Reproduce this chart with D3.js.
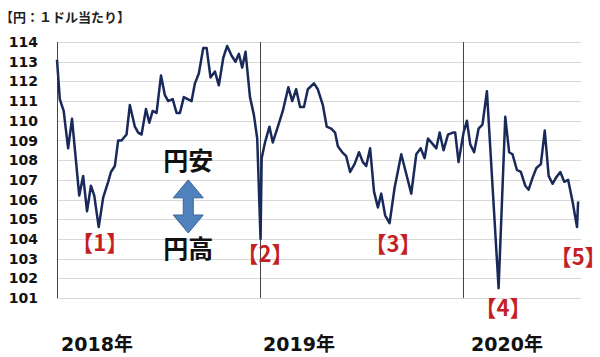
<!DOCTYPE html>
<html>
<head>
<meta charset="utf-8">
<script src="https://cdn.jsdelivr.net/npm/d3@7"></script>
<style>
  body { margin: 0; background: #fff; }
  text { font-family: "DejaVu Sans", "Noto Sans CJK JP", sans-serif; font-weight: bold; }
  .jp { font-family: "Noto Sans CJK JP", sans-serif; }
</style>
</head>
<body>
<svg id="chart" width="600" height="357"></svg>
<script>
// weekly USD/JPY
var dates = [
  '2018-01-01','2018-01-06','2018-01-13','2018-01-21','2018-01-28','2018-02-10','2018-02-17','2018-02-24',
  '2018-03-03','2018-03-09','2018-03-17','2018-03-25','2018-04-03','2018-04-08','2018-04-15','2018-04-21',
  '2018-04-27','2018-05-06','2018-05-12','2018-05-21','2018-05-27','2018-06-02','2018-06-10','2018-06-16',
  '2018-06-22','2018-06-29','2018-07-07','2018-07-14','2018-07-20','2018-07-28','2018-08-04','2018-08-10',
  '2018-08-17','2018-08-31','2018-09-06','2018-09-13','2018-09-21','2018-09-27','2018-10-04','2018-10-12',
  '2018-10-19','2018-10-27','2018-11-03','2018-11-11','2018-11-18','2018-11-24','2018-11-30','2018-12-06',
  '2018-12-14','2018-12-21','2018-12-27','2019-01-02','2019-01-04','2019-01-10','2019-01-18','2019-01-24',
  '2019-02-01','2019-02-11','2019-02-21','2019-02-28','2019-03-07','2019-03-14','2019-03-21','2019-03-28',
  '2019-04-08','2019-04-15','2019-04-24','2019-05-01','2019-05-09','2019-05-16','2019-05-21','2019-05-29',
  '2019-06-05','2019-06-12','2019-06-20','2019-06-28','2019-07-05','2019-07-11','2019-07-18','2019-07-25',
  '2019-08-01','2019-08-07','2019-08-14','2019-08-22','2019-08-31','2019-09-12','2019-09-21','2019-09-30',
  '2019-10-09','2019-10-17','2019-10-24','2019-10-30','2019-11-08','2019-11-14','2019-11-20','2019-11-27',
  '2019-12-05','2019-12-14','2019-12-18','2019-12-24','2020-01-02','2020-01-08','2020-01-14','2020-01-21',
  '2020-01-29','2020-02-05','2020-02-13','2020-03-05','2020-03-17','2020-03-24','2020-03-30','2020-04-07',
  '2020-04-14','2020-04-22','2020-04-28','2020-05-05','2020-05-12','2020-05-20','2020-05-27','2020-06-03',
  '2020-06-10','2020-06-16','2020-06-24','2020-07-01','2020-07-08','2020-07-16','2020-07-24','2020-07-26'
];
var rates = [
  113.1,111.1,110.5,108.6,110.1,106.2,107.2,105.4,
  106.7,106.2,104.6,106.1,106.9,107.4,107.7,109.0,
  109.0,109.3,110.8,109.7,109.4,109.3,110.6,109.9,
  110.5,110.4,112.3,111.3,111.0,111.1,110.4,110.4,
  111.2,111.0,111.9,112.4,113.7,113.7,112.2,112.5,
  111.8,113.2,113.8,113.3,113.0,113.4,112.7,113.5,
  111.2,110.3,109.1,104.0,108.1,108.9,109.7,108.9,
  109.6,110.5,111.7,111.0,111.6,110.7,110.7,111.6,
  111.9,111.6,110.8,109.7,109.6,109.4,108.7,108.4,
  108.2,107.4,107.8,108.4,107.9,107.7,108.6,106.4,
  105.6,106.3,105.2,104.8,106.6,108.3,107.3,106.3,
  108.3,108.6,108.1,109.1,108.8,108.6,109.4,108.5,
  109.3,109.4,109.4,107.9,109.4,110.0,108.8,108.4,
  109.6,109.8,111.5,101.5,110.2,108.4,108.3,107.5,
  107.4,106.7,106.5,107.1,107.6,107.8,109.5,107.2,
  106.8,107.1,107.4,106.9,107.0,105.9,104.6,105.9
];
var yTicks = d3.range(101, 115);
var years = ['2018-01-01', '2019-01-01', '2020-01-01'];
var yearLabels = ['2018年', '2019年', '2020年'];
var marks = [
  {num: '1', date: '2018-03-19', rate: 103.4},
  {num: '2', date: '2019-01-10', rate: 102.83},
  {num: '3', date: '2019-08-28', rate: 103.34},
  {num: '4', date: '2020-03-13', rate: 100.09},
  {num: '5', date: '2020-07-26', rate: 102.68}
];

var parse = d3.timeParse('%Y-%m-%d');
var data = dates.map(function(d, i) { return {date: parse(d), rate: rates[i]}; });

var svg = d3.select('#chart');
var plotL = 57, plotR = 581, plotT = 42, plotB = 298;

var x = d3.scaleTime()
  .domain([parse('2018-01-01'), parse('2020-01-01')])
  .range([plotL, 463]);
var y = d3.scaleLinear()
  .domain([101, 114])
  .range([plotB, plotT]);

// title
svg.append('text')
  .attr('class', 'jp')
  .attr('x', 0)
  .attr('y', 22)
  .attr('font-size', 13)
  .attr('fill', '#222')
  .text('【円：１ドル当たり】');

// gridlines
svg.append('g')
  .selectAll('line')
  .data(yTicks)
  .enter()
  .append('line')
  .attr('x1', plotL)
  .attr('x2', plotR)
  .attr('y1', function(d) { return Math.round(y(d)) + 0.5; })
  .attr('y2', function(d) { return Math.round(y(d)) + 0.5; })
  .attr('stroke', '#d9d9d9')
  .attr('stroke-width', 1);

// y labels
svg.append('g')
  .selectAll('text')
  .data(yTicks)
  .enter()
  .append('text')
  .attr('x', 38)
  .attr('y', function(d) { return y(d); })
  .attr('dy', '0.36em')
  .attr('text-anchor', 'end')
  .attr('font-size', 14)
  .attr('fill', '#111')
  .text(function(d) { return d; });

// year separators
svg.append('g')
  .selectAll('line')
  .data(years)
  .enter()
  .append('line')
  .attr('x1', function(d) { return Math.round(x(parse(d))) + 0.5; })
  .attr('x2', function(d) { return Math.round(x(parse(d))) + 0.5; })
  .attr('y1', plotT)
  .attr('y2', plotB)
  .attr('stroke', '#444')
  .attr('stroke-width', 1);

// year labels
var yearOffset = [4, 3, 8];
svg.append('g')
  .selectAll('text')
  .data(years)
  .enter()
  .append('text')
  .attr('x', function(d, i) { return x(parse(d)) + yearOffset[i]; })
  .attr('y', 351)
  .attr('font-size', 19)
  .attr('fill', '#111')
  .text(function(d, i) { return yearLabels[i]; });

// rate line
var line = d3.line()
  .x(function(d) { return x(d.date); })
  .y(function(d) { return y(d.rate); });

svg.append('path')
  .datum(data)
  .attr('d', line)
  .attr('fill', 'none')
  .attr('stroke', '#18295a')
  .attr('stroke-width', 2.5)
  .attr('stroke-linejoin', 'round');

// red markers (closing bracket's blank right half trimmed)
var mk = svg.append('g')
  .selectAll('text')
  .data(marks)
  .enter()
  .append('text')
  .attr('class', 'jp')
  .attr('x', function(d) { return x(parse(d.date)); })
  .attr('y', function(d) { return y(d.rate); })
  .attr('dx', -5.5)
  .attr('text-anchor', 'middle')
  .attr('font-size', 22)
  .attr('font-weight', 900)
  .attr('fill', '#c41f25');
mk.append('tspan').text(function(d) { return '【' + d.num; });
mk.append('tspan').attr('letter-spacing', -11).text('】');

// 円安 / 円高 with arrow
var cx = x(parse('2018-08-25'));
svg.append('text')
  .attr('class', 'jp')
  .attr('x', cx)
  .attr('y', y(107.5))
  .attr('text-anchor', 'middle')
  .attr('font-size', 25)
  .attr('font-weight', 900)
  .attr('fill', '#111')
  .text('円安');
svg.append('text')
  .attr('class', 'jp')
  .attr('x', cx)
  .attr('y', y(103.04))
  .attr('text-anchor', 'middle')
  .attr('font-size', 25)
  .attr('font-weight', 900)
  .attr('fill', '#111')
  .text('円高');

var at = y(107.0), ab = y(104.3), hh = 18, hw = 15, sw = 5;
var arrow = d3.path();
arrow.moveTo(cx, at);
arrow.lineTo(cx + hw, at + hh);
arrow.lineTo(cx + sw, at + hh);
arrow.lineTo(cx + sw, ab - hh);
arrow.lineTo(cx + hw, ab - hh);
arrow.lineTo(cx, ab);
arrow.lineTo(cx - hw, ab - hh);
arrow.lineTo(cx - sw, ab - hh);
arrow.lineTo(cx - sw, at + hh);
arrow.lineTo(cx - hw, at + hh);
arrow.closePath();
svg.append('path')
  .attr('d', arrow.toString())
  .attr('fill', '#4f81bd')
  .attr('stroke', '#3a6496')
  .attr('stroke-width', 1);
</script>
</body>
</html>
